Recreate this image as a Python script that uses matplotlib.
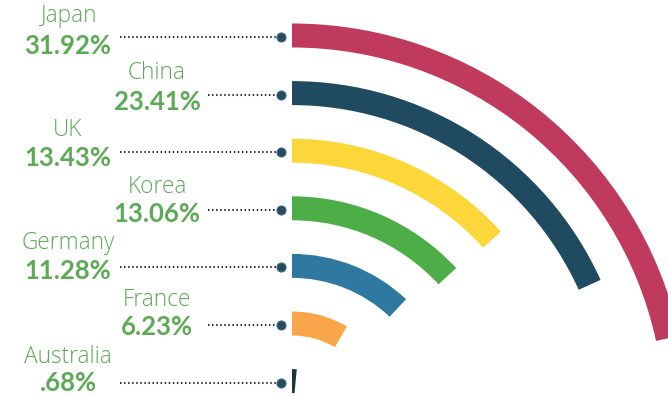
import numpy as np
import matplotlib
matplotlib.use("Agg")
import matplotlib.pyplot as plt
from matplotlib.patches import Wedge

# Share of total by country
countries = ["Japan", "China", "UK", "Korea", "Germany", "France", "Australia"]
shares = [31.92, 23.41, 13.43, 13.06, 11.28, 6.23, 0.68]
share_labels = ["31.92%", "23.41%", "13.43%", "13.06%", "11.28%", "6.23%", ".68%"]
arc_colors = ["#BF3A5D", "#1F4A5F", "#FCD73A", "#4DAE48", "#2F78A0", "#F9A64A", "#1F3338"]

W, H = 668, 396
fig = plt.figure(figsize=(W / 100, H / 100), dpi=100)
ax = fig.add_axes([0, 0, 1, 1])
ax.set_xlim(0, W)
ax.set_ylim(0, H)
ax.set_aspect("equal")
ax.axis("off")

green = "#5CAA56"
cx, cy = 292, H - 420          # common centre of the rings
r_outer = 384.5                # centre-line radius of the largest ring
step = 57.6                    # spacing between rings
band = 24                      # ring thickness


def sweep(v):
    """Angular extent (degrees) of a ring for a share value."""
    return 15.0 * np.sqrt(v) - 7.0


dot_x = 281
col_centres = [68, 157]
line_starts = [120, 208]
name_font = ["Open Sans", "Lato", "DejaVu Sans"]
value_font = ["Lato", "DejaVu Sans"]

for i, (name, v, lab, col) in enumerate(zip(countries, shares, share_labels, arc_colors)):
    r = r_outer - step * i
    ang = sweep(v)
    ax.add_patch(Wedge((cx, cy), r + band / 2, 90 - ang, 90, width=band,
                       facecolor=col, edgecolor="none"))
    y = cy + r - 1.5                      # leader line height
    c = i % 2
    ax.plot([line_starts[c], dot_x - 4], [y, y], color="#2a2a2a", lw=1.5,
            linestyle=(0, (0.7, 1.25)))
    ax.plot([dot_x], [y], "o", ms=6.5, color="#274A5E", mec="#3F6A86", mew=0.8)
    # label block: country name above, share below
    name_y = H - (22.5 + 56.7 * i)
    value_y = H - (53.5 + 56.3 * i)
    ax.text(col_centres[c], name_y, name, ha="center", va="baseline",
            fontsize=16.3, color=green, family=name_font, fontweight="light")
    ax.text(col_centres[c], value_y, lab, ha="center", va="baseline",
            fontsize=18.5, color=green, family=value_font, fontweight="bold")

fig.savefig("out.png", dpi=100, facecolor="white")
